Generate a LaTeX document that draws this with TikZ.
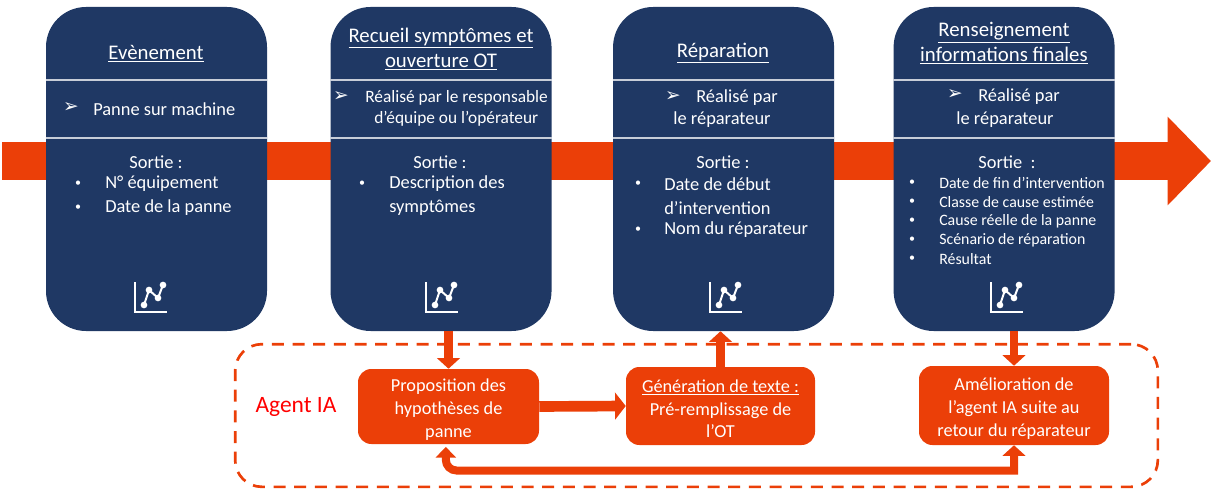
\documentclass[tikz,border=0pt]{standalone}
\usepackage{fontspec}
\setmainfont{Carlito}
\newfontfamily\symfont{DejaVu Sans}
\usetikzlibrary{arrows.meta, positioning}

\definecolor{navy}{HTML}{1F3864}
\definecolor{orangeia}{HTML}{EB3F08}

\newcommand{\puce}{{\fontsize{9}{9}\selectfont\textbullet}}
\newcommand{\cale}{\rule{0pt}{14pt}}

\tikzset{
    chart icon/.pic={
        \draw[white, line width=1.9pt] (0,-30) -- (0,0) -- (32,0);
        \draw[white, line width=1.5pt] (9,-7) -- (14,-22) -- (23,-14) -- (28,-27);
        \foreach \px/\py in {9/-7, 14/-22, 23/-14, 28/-27}
            \fill[white] (\px,\py) circle (2.5pt);
    }
}

\begin{document}
\begin{tikzpicture}[
    x=0.75pt, y=-0.75pt,
    etape/.style={rectangle, fill=navy, rounded corners=30pt, inner sep=0pt, minimum width=165.75pt, minimum height=243pt},
    agent/.style={rectangle, fill=orangeia, text=white, rounded corners=10pt, inner sep=0pt, align=center, font=\fontsize{13.7}{17}\selectfont},
    titre/.style={text=white, align=center, inner sep=0pt, font=\fontsize{15.6}{18.6}\selectfont},
    corps/.style={text=white, inner sep=0pt, font=\fontsize{13.8}{16}\selectfont},
    serre/.style={text=white, inner sep=0pt, font=\fontsize{13}{16}\selectfont},
    petit/.style={text=white, inner sep=0pt, font=\fontsize{11.9}{14}\selectfont},
    fleche/.style={text=white, inner sep=0pt, font=\symfont\fontsize{14}{14}\selectfont},
    separe/.style={draw=white!75!navy, line width=0.8pt},
    flux/.style={draw=orangeia, line width=6.5pt, -{Triangle[length=8pt, width=17pt]}},
    fluxlarge/.style={draw=orangeia, line width=8pt, -{Triangle[length=8pt, width=20pt]}},
    retour/.style={draw=orangeia, line width=6pt, {Triangle[length=8pt, width=15pt]}-{Triangle[length=8pt, width=17pt]}}
]
    \useasboundingbox (0,0) rectangle (1217,499);

    % bande
    \coordinate (debut) at (2,161);
    \coordinate (fin) at (1211,161);
    \draw[draw=orangeia, line width=28.5pt, -{Triangle[length=32.5pt, width=64.5pt]}] (debut) -- (fin);

    % etapes
    \node[etape] (evt) at (156.5,169) {};
    \node[etape, right=47.25pt of evt] (recueil) {};
    \node[etape, right=45.75pt of recueil] (repar) {};
    \node[etape, right=44.25pt of repar] (final) {};

    \foreach \bloc in {evt, recueil, repar, final} {
        \draw[separe] (\bloc.west |- 0,80) -- (\bloc.east |- 0,80);
        \draw[separe] (\bloc.west |- 0,138) -- (\bloc.east |- 0,138);
    }

    % icones
    \pic at (135,312) {chart icon};
    \pic at (426,312) {chart icon};
    \pic at (710,312) {chart icon};
    \pic at (991,312) {chart icon};

    % Evenement
    \node[titre] (t1) at (156,54) {\underline{Evènement}};
    \node[fleche] (f1) at (71,108) {➢};
    \node[corps, anchor=west] (c1) at (93,109) {Panne sur machine};
    \node[corps] (s1) at (156,162) {Sortie :};
    \foreach \i/\ligne/\txt in {1/184/N° équipement, 2/208/Date de la panne} {
        \node[corps] (p1-\i) at (78,\ligne) {\puce};
        \node[corps, anchor=west] (l1-\i) at (105,\ligne) {\txt};
    }

    % Recueil
    \node[titre] (t2) at (441,49) {\underline{Recueil symptômes et}\\\underline{ouverture OT}};
    \node[fleche] (f2) at (341,97) {➢};
    \node[serre, anchor=west] (c2a) at (365,98) {Réalisé par le responsable};
    \node[serre, anchor=west] (c2b) at (374,119) {d’équipe ou l’opérateur};
    \node[corps] (s2) at (440,162) {Sortie :};
    \node[corps] (p2-1) at (362,184) {\puce};
    \node[corps, anchor=west] (l2-1) at (389,184) {Description des};
    \node[corps, anchor=west] (l2-2) at (389,208) {symptômes};

    % Reparation
    \node[titre] (t3) at (723,53) {\underline{Réparation}};
    \node[fleche] (f3) at (673,97) {➢};
    \node[corps, anchor=west] (c3a) at (696,98) {Réalisé par};
    \node[corps] (c3b) at (722,120) {le réparateur};
    \node[corps] (s3) at (723,162) {Sortie :};
    \node[corps] (p3-1) at (638,184) {\puce};
    \node[corps, anchor=west] (l3-1) at (664,184) {Date de début};
    \node[corps, anchor=west] (l3-2) at (664,208) {d’intervention};
    \node[corps] (p3-2) at (638,230) {\puce};
    \node[corps, anchor=west] (l3-3) at (664,230) {Nom du réparateur};

    % Renseignement
    \node[titre] (t4) at (1004,43) {\underline{Renseignement}\\\underline{informations finales}};
    \node[fleche] (f4) at (955,95) {➢};
    \node[corps, anchor=west] (c4a) at (978,97) {Réalisé par};
    \node[corps] (c4b) at (1005,120) {le réparateur};
    \node[corps] (s4) at (1007,162) {Sortie~ :};
    \foreach \i/\ligne/\txt in {1/183/Date de fin d’intervention, 2/202/Classe de cause estimée, 3/221/Cause réelle de la panne, 4/240/Scénario de réparation, 5/259/Résultat} {
        \node[petit] (p4-\i) at (912,\ligne) {\puce};
        \node[petit, anchor=west] (l4-\i) at (939,\ligne) {\txt};
    }

    % agent IA
    \node[draw=orangeia, line width=2pt, dash pattern=on 9pt off 6.5pt, rounded corners=20pt, inner sep=0pt, minimum width=692pt, minimum height=107pt] (zone) at (696.5,415.5) {};
    \node[text=red, inner sep=0pt, font=\fontsize{17.6}{20}\selectfont] (nomia) at (296,407) {Agent IA};

    \node[agent, minimum width=135.75pt, minimum height=56.25pt] (hypo) at (448.5,406.5) {\cale Proposition des\\hypothèses de\\panne};
    \node[agent, minimum width=141.75pt, minimum height=58.5pt] (gene) at (720.5,406) {\cale\underline{Génération de texte :}\\Pré-remplissage de\\l’OT};
    \node[agent, minimum width=142.5pt, minimum height=59.25pt] (amelio) at (1014,405.5) {\cale Amélioration de\\l’agent IA suite au\\retour du réparateur};

    \coordinate (bas) at (730,470.5);

    \draw[flux] (hypo.north |- recueil.south) -- (hypo.north);
    \draw[fluxlarge] (hypo.east) -- (gene.west);
    \draw[flux] (gene.north) -- (gene.north |- repar.south);
    \draw[flux] (amelio.north |- final.south) -- (amelio.north);
    \draw[retour, shorten <=2pt] ([xshift=-2pt]hypo.south) [rounded corners=8pt] -- ([xshift=-2pt]hypo.south |- bas) [sharp corners] -- (amelio.south |- bas) -- (amelio.south);
\end{tikzpicture}
\end{document}
